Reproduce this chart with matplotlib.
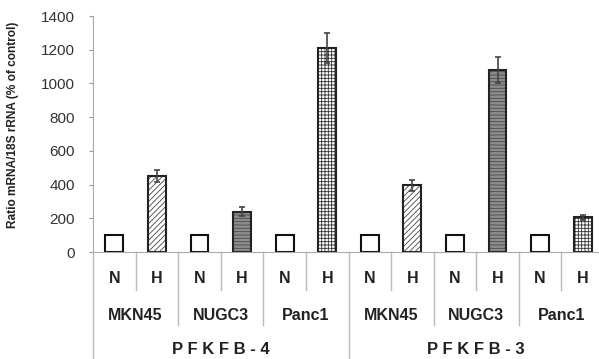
import matplotlib.pyplot as plt
import matplotlib.transforms as mtransforms

plt.rcParams['font.family'] = ['Liberation Sans', 'DejaVu Sans']
plt.rcParams['hatch.linewidth'] = 0.6

# data
genes = ['P F K F B - 4', 'P F K F B - 3']
cells = ['MKN45', 'NUGC3', 'Panc1']
conds = ['N', 'H']
values = [100, 450, 100, 240, 100, 1210, 100, 395, 100, 1080, 100, 205]
errors = [0, 35, 0, 25, 0, 90, 0, 33, 0, 75, 0, 15]

# fill style per cell line for H bars
h_face = {'MKN45': 'white', 'NUGC3': '#8c8c8c', 'Panc1': 'white'}
h_hatch = {'MKN45': '//////', 'NUGC3': '-----', 'Panc1': '+++++'}
h_hcol = {'MKN45': '#444444', 'NUGC3': '#4a4a4a', 'Panc1': '#333333'}

fig = plt.figure(figsize=(5.99, 3.59), dpi=100)
ax = fig.add_axes([93 / 599, 107 / 359, 511 / 599, 236 / 359])

x = list(range(len(values)))
for i, v in enumerate(values):
    cell = cells[(i // 2) % 3]
    if i % 2 == 0:
        ax.bar(i, v, width=0.42, facecolor='white', edgecolor='#111111', linewidth=1.5)
    else:
        ax.bar(i, v, width=0.42, facecolor=h_face[cell], edgecolor=h_hcol[cell],
               hatch=h_hatch[cell], linewidth=0)
        ax.bar(i, v, width=0.42, facecolor='none', edgecolor='#222222', linewidth=1.5)
        ax.errorbar(i, v, yerr=errors[i], color='#444444', capsize=2.5, elinewidth=1.2,
                    capthick=1.2)

ax.set_xlim(-0.5, len(values) - 0.5)
ax.set_ylim(0, 1400)
ax.set_yticks(range(0, 1401, 200))
ax.tick_params(axis='y', labelsize=11, length=3, pad=10, color='#999999',
               labelcolor='#333333')
ax.set_xticks([])
for s in ['top', 'right']:
    ax.spines[s].set_visible(False)
ax.spines['left'].set_color('#aaaaaa')
ax.spines['bottom'].set_color('#aaaaaa')

ax.set_ylabel('Ratio mRNA/18S rRNA (% of control)', fontsize=8.6, fontweight='bold',
              color='#222222')
ax.yaxis.set_label_coords(-0.145, 0.54)

# category labels and separators below the axis
tr = mtransforms.blended_transform_factory(ax.transData, ax.transAxes)
for i in x:
    ax.text(i, -0.114, conds[i % 2], transform=tr, ha='center', va='center',
            fontsize=11.5, fontweight='bold', color='#222222')
for k in range(len(values) // 2):
    ax.text(2 * k + 0.5, -0.271, cells[k % 3], transform=tr, ha='center', va='center',
            fontsize=11.5, fontweight='bold', color='#222222')
for g, name in enumerate(genes):
    ax.text(6 * g + 2.5, -0.415, name, transform=tr, ha='center', va='center',
            fontsize=12, fontweight='bold', color='#222222')

for i in range(len(values) + 1):
    b = i - 0.5
    if i % 6 == 0:
        y_end = -0.46
    elif i % 2 == 0:
        y_end = -0.309
    else:
        y_end = -0.161
    ax.plot([b, b], [0, y_end], transform=tr, color='#bbbbbb', linewidth=1,
            clip_on=False)

fig.savefig('out.png', dpi=100)
